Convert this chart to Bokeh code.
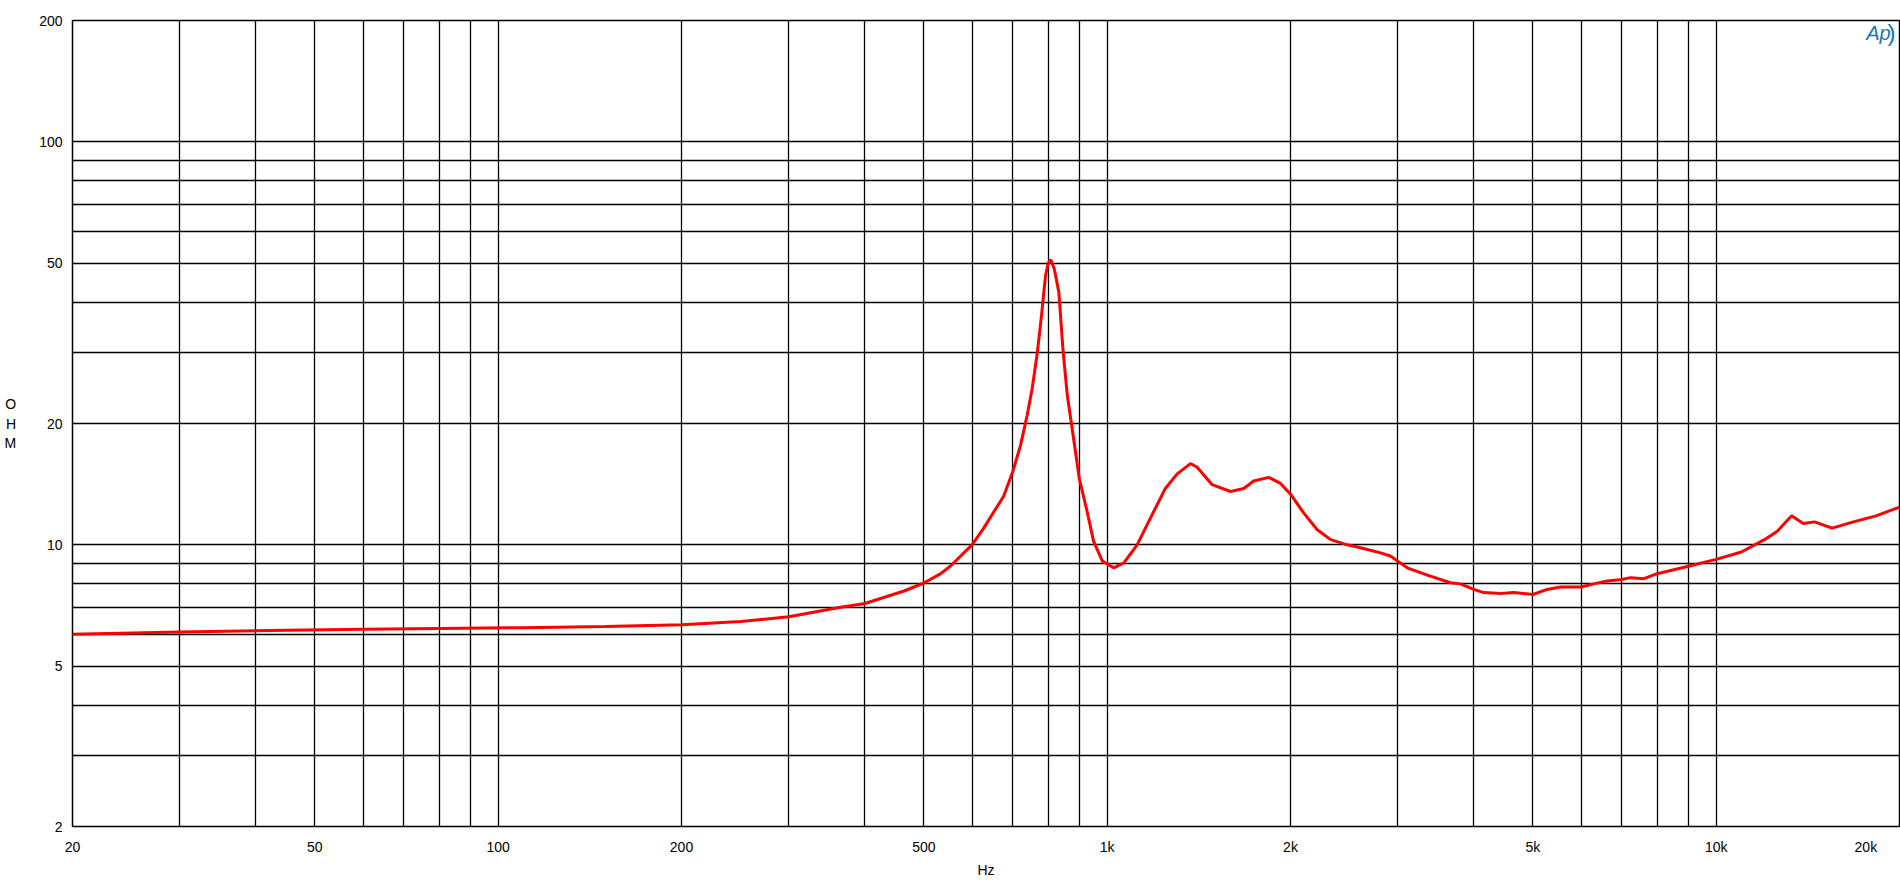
from bokeh.plotting import figure
from bokeh.models import FixedTicker, Label, Range1d
from bokeh.embed import file_html
from bokeh.resources import INLINE

# ---- data ----
freq_hz = [20, 30, 42, 60, 80, 110, 150, 200, 250, 300, 365, 400, 464, 500, 533, 553,
           600, 627, 647, 676, 700, 721, 739, 753, 768, 780, 792, 800, 808, 819, 833, 846,
           860, 876, 900, 927, 950, 982, 1025, 1065, 1120, 1178, 1246, 1303, 1370, 1404,
           1487, 1594, 1676, 1740, 1842, 1926, 2000, 2102, 2213, 2328, 2478, 2606, 2810,
           2918, 3000, 3109, 3355, 3662, 3800, 4000, 4154, 4424, 4652, 5000, 5278, 5550,
           6000, 6296, 6622, 7000, 7232, 7606, 8000, 9000, 10000, 11000, 12000, 12600,
           13300, 13900, 14500, 15500, 16800, 18300, 20000]
impedance_ohm = [6.00, 6.08, 6.13, 6.17, 6.20, 6.23, 6.27, 6.33, 6.45, 6.63, 7.0, 7.15,
                 7.68, 8.04, 8.48, 8.86, 10.0, 11.0, 11.87, 13.2, 15.2, 17.7, 20.96, 24.4,
                 30.0, 37.0, 46.5, 50.0, 51.0, 48.3, 42.3, 30.6, 23.5, 19.4, 14.6, 12.1,
                 10.2, 9.11, 8.77, 9.02, 10.0, 11.66, 13.8, 15.0, 15.9, 15.6, 14.1, 13.56,
                 13.8, 14.4, 14.7, 14.2, 13.36, 12.0, 10.9, 10.3, 10.0, 9.83, 9.55, 9.38,
                 9.11, 8.77, 8.41, 8.05, 8.0, 7.75, 7.61, 7.57, 7.61, 7.53, 7.75, 7.86,
                 7.86, 8.0, 8.13, 8.2, 8.29, 8.24, 8.48, 8.85, 9.2, 9.6, 10.3, 10.8, 11.8,
                 11.3, 11.4, 11.0, 11.4, 11.8, 12.4]

x_label_ticks = [20, 50, 100, 200, 500, 1000, 2000, 5000, 10000, 20000]
x_label_text = ["20", "50", "100", "200", "500", "1k", "2k", "5k", "10k", "20k"]
y_label_ticks = [2, 5, 10, 20, 50, 100, 200]
y_label_text = ["2", "5", "10", "20", "50", "100", "200"]
x_grid_ticks = [20, 30, 40, 50, 60, 70, 80, 90, 100, 200, 300, 400, 500, 600, 700, 800,
                900, 1000, 2000, 3000, 4000, 5000, 6000, 7000, 8000, 9000, 10000, 20000]
y_grid_ticks = [2, 3, 4, 5, 6, 7, 8, 9, 10, 20, 30, 40, 50, 60, 70, 80, 90, 100, 200]

FONT = "Liberation Sans"
FS = "14px"
NBSP = "\u00a0"

p = figure(width=1900, height=880, x_axis_type="log", y_axis_type="log",
           x_range=Range1d(20, 20000), y_range=Range1d(2, 200),
           output_backend="svg", toolbar_location=None,
           min_border_left=72, min_border_right=1, min_border_top=20,
           min_border_bottom=50)

p.background_fill_color = "white"
p.border_fill_color = "white"
p.outline_line_color = "black"
p.outline_line_width = 1.5

for g, t in ((p.xgrid, x_grid_ticks), (p.ygrid, y_grid_ticks)):
    g.ticker = FixedTicker(ticks=t)
    g.grid_line_color = "black"
    g.grid_line_alpha = 1.0
    g.grid_line_width = 1.3

overrides_x = {t: s for t, s in zip(x_label_ticks, x_label_text)}
# the last label sits flush with the right edge, as in the reference
overrides_x[20000] = x_label_text[-1] + NBSP * 6
p.xaxis.ticker = FixedTicker(ticks=x_label_ticks, minor_ticks=[])
p.xaxis.major_label_overrides = overrides_x
p.yaxis.ticker = FixedTicker(ticks=y_label_ticks, minor_ticks=[])
p.yaxis.major_label_overrides = {t: s for t, s in zip(y_label_ticks, y_label_text)}

for ax in (p.xaxis, p.yaxis):
    ax.major_tick_line_color = None
    ax.minor_tick_line_color = None
    ax.axis_line_color = None
    ax.major_label_text_font = FONT
    ax.major_label_text_font_size = FS
    ax.major_label_text_color = "#000000"
    ax.major_label_text_font_style = "normal"
    ax.axis_label_text_font = FONT
    ax.axis_label_text_font_size = FS
    ax.axis_label_text_font_style = "normal"
    ax.axis_label_text_color = "#000000"
p.xaxis.major_label_standoff = 6
p.yaxis.major_label_standoff = 4

p.xaxis.axis_label = "Hz"
p.xaxis.axis_label_standoff = 4

p.yaxis.axis_label = "O\nH\nM"
p.yaxis.axis_label_orientation = "horizontal"
p.yaxis.axis_label_standoff = 20

# Ap logo
p.add_layout(Label(x=1806, y=794, x_units="screen", y_units="screen", text="Ap",
                   text_align="center", text_baseline="middle",
                   text_font=FONT, text_font_size="20px", text_font_style="italic",
                   text_color="#1a73b8"))
p.add_layout(Label(x=1819, y=794, x_units="screen", y_units="screen", text=")",
                   text_align="center", text_baseline="middle",
                   text_font=FONT, text_font_size="24px",
                   text_color="#1a73b8"))

p.line(freq_hz, impedance_ohm, line_color="#ff0000", line_width=3)

open("out.html", "w").write(file_html(p, INLINE))
